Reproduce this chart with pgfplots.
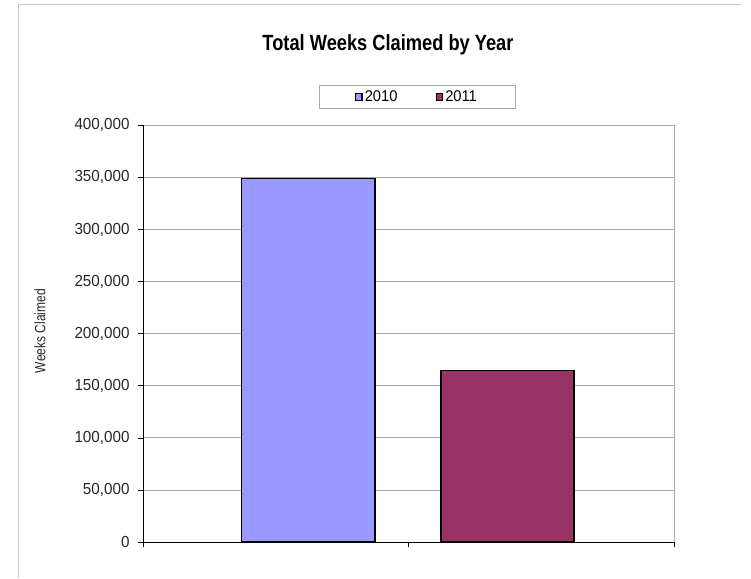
\documentclass[border=0pt]{standalone}
\usepackage{fontspec}
\setmainfont{Liberation Sans}[FakeStretch=0.95]
\newfontfamily\titlefont{Liberation Sans}[FakeStretch=0.83]
\newfontfamily\labelfont{Liberation Sans}[FakeStretch=0.8]
\usepackage{pgfplots}
\pgfplotsset{compat=1.18}
\definecolor{gridgray}{RGB}{170,170,170}
\definecolor{framegray}{RGB}{200,200,200}
\definecolor{ca}{RGB}{153,153,255}
\definecolor{cb}{RGB}{153,51,102}
\begin{document}
\begin{tikzpicture}
\path[use as bounding box] (0pt,0pt) rectangle (751pt,-578pt);
\draw[framegray, line width=1pt] (741pt,-5pt) -- (18pt,-5pt) -- (18pt,-578pt);
\begin{axis}[
  at={(143pt,-542pt)}, anchor=south west,
  scale only axis, width=531pt, height=416.7pt,
  xmin=0, xmax=2, ymin=0, ymax=400000,
  axis x line*=bottom, axis y line*=left,
  axis line style={black, line width=0.9pt, -},
  xtick={0,1,2}, xticklabels={},
  ytick={0,50000,...,400000},
  ymajorgrids, grid style={gridgray, line width=0.8pt},
  extra x ticks={2}, extra x tick labels={}, extra x tick style={grid=major},
  tick align=outside, major tick length=5pt,
  tick style={black, line width=0.6pt},
  scaled y ticks=false,
  /pgf/number format/assume math mode=true,
  /pgf/number format/1000 sep={,},
  /pgf/number format/fixed,
  yticklabel style={font=\fontsize{16}{18}\selectfont, text=black!85, xshift=-5pt},
  ylabel={Weeks Claimed},
  ylabel style={at={(axis description cs:-0.194,0.506)}, anchor=center, font=\labelfont\fontsize{15}{17}\selectfont, text=black!85},
  title={Total Weeks Claimed by Year},
  title style={at={(0.4614,1.1663)}, anchor=base, font=\titlefont\bfseries\fontsize{22}{26}\selectfont},
  legend columns=2,
  legend style={at={(0.516,1.068)}, anchor=center, draw=gridgray, line width=0.8pt,
    font=\fontsize{15.5}{18}\selectfont, inner xsep=36pt, inner ysep=3pt,
    /tikz/every even column/.append style={column sep=36pt}},
  legend image code/.code={\draw[#1, line width=1.3pt] (0pt,-3.2pt) rectangle (6.4pt,3.2pt);},
]
\addplot[ybar, bar width=0.502, bar shift=0pt, fill=ca, draw=black, line width=1.5pt] coordinates {(0.6226,349000)};
\addplot[ybar, bar width=0.502, bar shift=0pt, fill=cb, draw=black, line width=1.5pt] coordinates {(1.3729,164600)};
\legend{2010,2011}
\end{axis}
\end{tikzpicture}
\end{document}
